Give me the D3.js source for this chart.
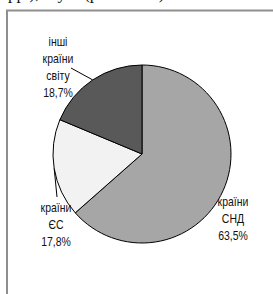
<!DOCTYPE html>
<html>
<head>
<meta charset="utf-8">
<script src="https://cdn.jsdelivr.net/npm/d3@7"></script>
<style>
  body { margin: 0; background: #fff; }
  svg { display: block; }
</style>
</head>
<body>
<div id="pie"></div>
<script>
/* chart data */
var regions = ["країни СНД", "країни ЄС", "інші країни світу"];
var shares = [63.5, 17.8, 18.7];
var labelLines = [["країни", "СНД"], ["країни", "ЄС"], ["інші", "країни", "світу"]];
var colors = ["#a6a6a6", "#f2f2f2", "#595959"];

var width = 273,
    height = 294,
    cx = 142,
    cy = 154,
    radius = 89,
    lineHeight = 17;

/* where each label block sits (centre x, first baseline y) and its leader end */
var labelPos = [
  { x: 233, y: 206, leader: null },
  { x: 56, y: 212, leader: [57, 197] },
  { x: 58, y: 46, leader: [71, 68] }
];

var svg = d3.select("#pie")
            .append("svg")
            .attr("width", width)
            .attr("height", height);

/* clipped line of the page text above the figure */
svg.append("text")
    .attr("x", 8)
    .attr("y", -1.5)
    .attr("font-family", "Liberation Serif, serif")
    .attr("font-size", 17)
    .attr("word-spacing", 14)
    .attr("fill", "#111")
    .text("рр.), у (рис. 2.3)");

/* frame of the chart area */
svg.append("path")
    .attr("d", "M7," + height + "V10.5H" + width)
    .attr("fill", "none")
    .attr("stroke", "#8f8f8f")
    .attr("stroke-width", 2);

var pie = d3.pie()
    .sort(null)
    .value(function(d) { return d; });

var arcs = pie(shares);

var arc = d3.arc()
    .innerRadius(0)
    .outerRadius(radius);

var g = svg.append("g")
    .attr("transform", "translate(" + cx + "," + cy + ")");

/* slices */
g.selectAll("path")
    .data(arcs)
    .enter().append("path")
        .attr("d", arc)
        .attr("fill", function(d, i) { return colors[i]; })
        .attr("stroke", "#000")
        .attr("stroke-width", 1)
        .attr("stroke-linejoin", "round");

/* leader lines from slice middle on the rim to the label */
arcs.forEach(function(d, i) {
  var p = labelPos[i];
  if (!p.leader) return;
  var mid = (d.startAngle + d.endAngle) / 2;
  var ex = cx + radius * Math.sin(mid),
      ey = cy - radius * Math.cos(mid);
  svg.append("line")
      .attr("x1", ex)
      .attr("y1", ey)
      .attr("x2", p.leader[0])
      .attr("y2", p.leader[1])
      .attr("stroke", "#000")
      .attr("stroke-width", 1);
});

/* labels: name lines plus percent */
var fmt = function(v) { return v.toFixed(1).replace(".", ",") + "%"; };

var labels = svg.selectAll("g.label")
    .data(arcs)
    .enter().append("g")
        .attr("class", "label")
        .attr("transform", function(d, i) {
          return "translate(" + labelPos[i].x + "," + labelPos[i].y + ") scale(0.84,1)";
        });

labels.selectAll("text")
    .data(function(d, i) { return labelLines[i].concat([fmt(shares[i])]); })
    .enter().append("text")
        .attr("x", 0)
        .attr("y", function(d, j) { return j * lineHeight; })
        .attr("text-anchor", "middle")
        .attr("font-family", "Liberation Sans, Arial, sans-serif")
        .attr("font-size", 12.5)
        .attr("fill", "#111")
        .text(function(d) { return d; });
</script>
</body>
</html>
